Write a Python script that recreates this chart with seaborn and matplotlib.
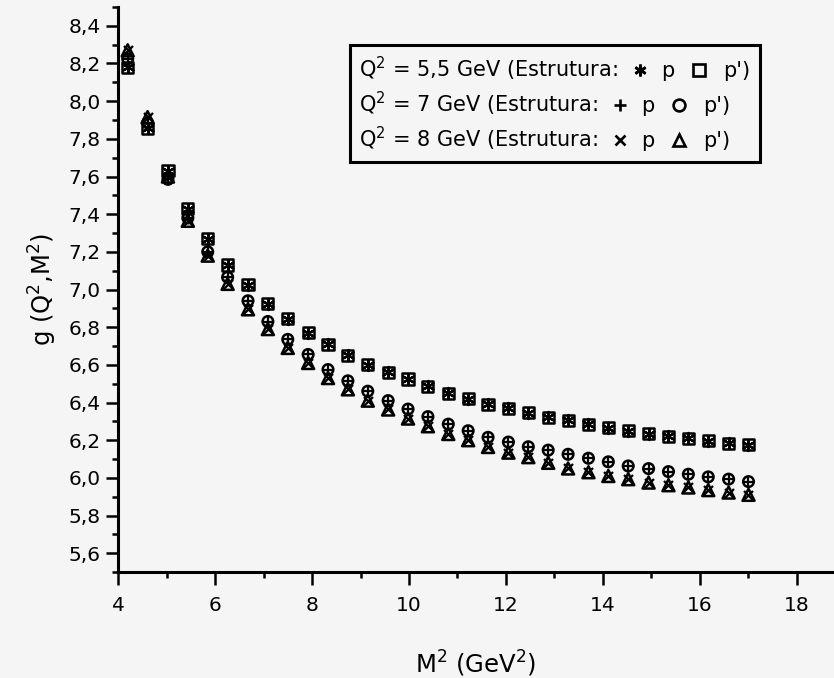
import matplotlib
matplotlib.use("Agg")
import matplotlib.pyplot as plt
import pandas as pd
import seaborn as sns
from matplotlib.ticker import MultipleLocator, FuncFormatter
from matplotlib.offsetbox import TextArea, DrawingArea, HPacker, VPacker, AnchoredOffsetbox
from matplotlib.lines import Line2D

# ---------------- data ----------------
m2 = [4.20, 4.61, 5.03, 5.44, 5.85, 6.26, 6.68, 7.09, 7.50, 7.92, 8.33, 8.74,
      9.15, 9.57, 9.98, 10.39, 10.81, 11.22, 11.63, 12.05, 12.46, 12.87, 13.28,
      13.70, 14.11, 14.52, 14.94, 15.35, 15.76, 16.17, 16.59, 17.00]

# Q^2 = 5,5 GeV (structures p and p' coincide)
g_q55_p = [8.18, 7.855, 7.63, 7.43, 7.27, 7.13, 7.025, 6.925, 6.845, 6.77, 6.71,
           6.65, 6.60, 6.56, 6.525, 6.485, 6.45, 6.42, 6.39, 6.37, 6.345, 6.322,
           6.306, 6.285, 6.267, 6.25, 6.235, 6.22, 6.21, 6.196, 6.184, 6.175]
g_q55_pp = [8.18, 7.855, 7.63, 7.43, 7.27, 7.13, 7.025, 6.925, 6.845, 6.77, 6.71,
            6.65, 6.60, 6.56, 6.525, 6.485, 6.45, 6.42, 6.39, 6.37, 6.345, 6.322,
            6.306, 6.285, 6.267, 6.25, 6.235, 6.22, 6.21, 6.196, 6.184, 6.175]
# Q^2 = 7 GeV
g_q7_p = [8.225, 7.885, 7.585, 7.38, 7.20, 7.065, 6.94, 6.83, 6.735, 6.655, 6.575,
          6.515, 6.46, 6.41, 6.365, 6.325, 6.285, 6.25, 6.215, 6.19, 6.165, 6.147,
          6.125, 6.104, 6.085, 6.063, 6.049, 6.033, 6.019, 6.005, 5.993, 5.98]
g_q7_pp = [8.225, 7.885, 7.585, 7.38, 7.20, 7.065, 6.94, 6.83, 6.735, 6.655, 6.575,
           6.515, 6.46, 6.41, 6.365, 6.325, 6.285, 6.25, 6.215, 6.19, 6.165, 6.147,
           6.125, 6.104, 6.085, 6.063, 6.049, 6.033, 6.019, 6.005, 5.993, 5.98]
# Q^2 = 8 GeV
g_q8_p = [8.27, 7.915, 7.60, 7.365, 7.18, 7.03, 6.895, 6.79, 6.69, 6.61, 6.53,
          6.47, 6.41, 6.363, 6.315, 6.274, 6.233, 6.20, 6.164, 6.134, 6.11, 6.08,
          6.05, 6.03, 6.01, 5.993, 5.975, 5.961, 5.949, 5.935, 5.922, 5.91]
g_q8_pp = [8.27, 7.915, 7.60, 7.365, 7.18, 7.03, 6.895, 6.79, 6.69, 6.61, 6.53,
           6.47, 6.41, 6.363, 6.315, 6.274, 6.233, 6.20, 6.164, 6.134, 6.11, 6.08,
           6.05, 6.03, 6.01, 5.993, 5.975, 5.961, 5.949, 5.935, 5.922, 5.91]

legend_rows = ["Q$^2$ = 5,5 GeV (Estrutura:", "Q$^2$ = 7 GeV (Estrutura:", "Q$^2$ = 8 GeV (Estrutura:"]
x_label = "M$^2$ (GeV$^2$)"
y_label = "g (Q$^2$,M$^2$)"

# ---------------- style ----------------
bg = "#f5f5f5"
sns.set_theme(style="ticks")
plt.rcParams["font.family"] = ["DejaVu Sans"]
plt.rcParams["mathtext.fontset"] = "dejavusans"

W, H = 834, 678
fig = plt.figure(figsize=(W / 100, H / 100), dpi=100, facecolor=bg)
ax = fig.add_axes([118 / W, 1 - 572 / H, 1 - 118 / W, (572 - 7) / H])
ax.set_facecolor(bg)

asterisk = (6, 2, 0)
series = [
    (g_q55_pp, "s", True, 64),
    (g_q55_p, asterisk, False, 64),
    (g_q7_pp, "o", True, 58),
    (g_q7_p, "+", False, 58),
    (g_q8_pp, "^", True, 75),
    (g_q8_p, "x", False, 42),
]
for vals, mk, hollow, size in series:
    df = pd.DataFrame({"M2": m2, "g": vals})
    if hollow:
        sns.scatterplot(data=df, x="M2", y="g", ax=ax, marker=mk, s=size,
                        facecolor="none", edgecolor="black", linewidth=1.8,
                        legend=False, zorder=3)
    else:
        sns.scatterplot(data=df, x="M2", y="g", ax=ax, marker=mk, s=size,
                        color="black", linewidth=1.6, legend=False, zorder=3)

ax.set_xlim(4, 4 + (W - 118) / 48.5)
ax.set_ylim(5.5, 8.5)
ax.xaxis.set_major_locator(MultipleLocator(2))
ax.xaxis.set_minor_locator(MultipleLocator(1))
ax.yaxis.set_major_locator(MultipleLocator(0.2))
ax.yaxis.set_minor_locator(MultipleLocator(0.1))
ax.xaxis.set_major_formatter(FuncFormatter(lambda v, _: f"{v:.0f}"))
ax.yaxis.set_major_formatter(FuncFormatter(lambda v, _: f"{v:.1f}".replace(".", ",")))
ax.tick_params(axis="both", which="major", width=1.8, direction="out",
               labelsize=14.5, colors="black")
ax.tick_params(axis="y", which="major", length=8.5, pad=4)
ax.tick_params(axis="x", which="major", length=9.5, pad=8)
ax.tick_params(axis="both", which="minor", length=4.5, width=1.8, direction="out", colors="black")
for side in ("top", "right"):
    ax.spines[side].set_visible(False)
for side in ("left", "bottom"):
    ax.spines[side].set_linewidth(2.2)
    ax.spines[side].set_color("black")

ax.set_xlabel(x_label, fontsize=17.5, color="black", labelpad=24)
ax.set_ylabel(y_label, fontsize=17.5, color="black", labelpad=7)

# ---------------- legend box ----------------
leg_markers = [(asterisk, "s"), ("+", "o"), ("x", "^")]
fs = 15
rows = []
for label, (m1, m2k) in zip(legend_rows, leg_markers):
    children = [TextArea(label, textprops=dict(fontsize=fs, color="black"))]
    for i, (mk, suffix) in enumerate(((m1, "p"), (m2k, "p')"))):
        wda = 14 if i == 0 else 18
        da = DrawingArea(wda, 12, 0, 0)
        hollow = mk in ("s", "o", "^")
        da.add_artist(Line2D([wda / 2], [5], marker=mk,
                             markersize=8.5 if mk != "x" else 7.5,
                             markeredgewidth=1.9, color="black",
                             markerfacecolor="none" if hollow else "black",
                             linestyle="none"))
        children.append(da)
        children.append(TextArea(suffix, textprops=dict(fontsize=fs, color="black")))
    rows.append(HPacker(children=children, align="baseline", pad=0, sep=8.5))
box = VPacker(children=rows, align="left", pad=0, sep=5)
anch = AnchoredOffsetbox(loc="upper left", child=box, pad=0.62, borderpad=0,
                         frameon=True, bbox_to_anchor=(350 / W, 1 - 45 / H),
                         bbox_transform=fig.transFigure)
anch.patch.set_edgecolor("black")
anch.patch.set_linewidth(2.2)
anch.patch.set_facecolor(bg)
anch.patch.set_boxstyle("square", pad=0)
ax.add_artist(anch)

fig.savefig("out.png", dpi=100, facecolor=bg)
